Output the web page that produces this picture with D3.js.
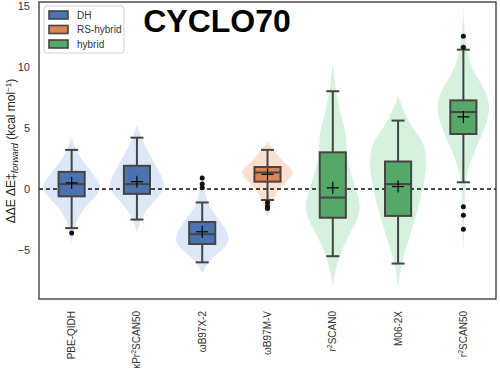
<!DOCTYPE html>
<html><head><meta charset="utf-8">
<script src="https://cdn.jsdelivr.net/npm/d3@7/dist/d3.min.js"></script>
<style>body{margin:0;background:#fff}svg{display:block}text{font-family:"Liberation Sans",Arial,sans-serif}</style>
</head><body><svg id="c" width="500" height="370"></svg>
<script>
// ---- data ----
const categories = ["PBE-QIDH","κPr2SCAN50","ωB97X-2","ωB97M-V","r2SCAN0","M06-2X","r2SCAN50"];
const groups     = ["DH","DH","DH","RS-hybrid","hybrid","hybrid","hybrid"];
const legendGroups = ["DH","RS-hybrid","hybrid"];
// box stats: [whiskerLow, q1, median, q3, whiskerHigh]
const boxStats = [
  [-3.2,-0.6,0.4,1.4,3.2],
  [-2.5,-0.4,0.4,1.9,4.2],
  [-6.0,-4.5,-3.7,-2.7,-1.1],
  [-0.9,0.6,1.35,1.8,3.2],
  [-5.5,-2.35,-0.7,3.0,8.0],
  [-6.1,-2.2,0.4,2.25,5.6],
  [0.55,4.5,6.3,7.25,11.4]
];
const means = [0.5,0.6,-3.5,1.2,0.1,0.2,5.9];
const outliers = [
  [-3.6],
  [],
  [0.9,0.4,0.1],
  [-1.1,-1.4,-1.6],
  [],
  [],
  [12.5,11.6,-1.45,-2.15,-3.3]
];
// violin outlines: [value, relative half-width]
const violins = [
  [[4.2,0],[3.5,0.1],[2.5,0.3],[1.5,0.65],[0.5,0.97],[0,1.0],[-0.7,0.8],[-1.5,0.45],[-2.5,0.18],[-3.5,0.07],[-4.4,0]],
  [[5.2,0],[4.5,0.1],[3.0,0.38],[1.5,0.75],[0.3,1.0],[-0.5,0.8],[-1.5,0.38],[-2.5,0.12],[-3.6,0]],
  [[1.5,0],[0.5,0.05],[-1.0,0.15],[-2.0,0.4],[-3.0,0.75],[-4.2,1.0],[-5.0,0.7],[-5.8,0.25],[-6.9,0]],
  [[3.9,0],[3.0,0.25],[2.0,0.65],[1.3,1.0],[0.5,0.6],[-0.5,0.25],[-1.5,0.1],[-2.3,0]],
  [[10.3,0],[8.5,0.08],[6.1,0.26],[4.3,0.5],[2.8,0.45],[1.0,0.65],[-1.3,1.0],[-2.5,0.85],[-3.8,0.55],[-5.8,0.15],[-7.9,0]],
  [[7.6,0],[6.1,0.24],[4.8,0.55],[3.8,0.92],[1.9,1.0],[0,0.85],[-1.5,0.7],[-4.0,0.4],[-5.9,0.12],[-8.0,0]],
  [[14.8,0],[12.0,0.05],[9.75,0.28],[8.4,0.7],[6.6,1.0],[4.3,0.62],[2.4,0.25],[0.8,0.08],[-1.0,0.04],[-3.5,0.03],[-5.0,0]]
];
const yTicks = [-5,0,5,10,15];
const boxColors = {"DH":"#4c72b0","RS-hybrid":"#dd8452","hybrid":"#55a868"};
const violinColors = {"DH":"#dce8f7","RS-hybrid":"#fbe0cf","hybrid":"#d6f1dd"};

// ---- layout ----
const svg = d3.select("#c");
const L=39, R=496, T=2, B=299;
const x = d3.scaleBand().domain(categories).range([L,R]).padding(0);
const y = d3.scaleLinear().domain([-9.0,15.3]).range([B,T]);
const bw = x.bandwidth();
const boxW = bw*0.4, vHalf = 29, capHalf = 6.5;
const edge = "#444";

// violins
const area = d3.area().curve(d3.curveBasis).y(d=>y(d[0]));
categories.forEach((c,i)=>{
  const cx = x(c)+bw/2;
  svg.append("path").datum(violins[i])
    .attr("d", area.x0(d=>cx-d[1]*vHalf).x1(d=>cx+d[1]*vHalf))
    .attr("fill", violinColors[groups[i]]).attr("stroke","none");
});

// zero line
svg.append("line").attr("x1",L).attr("x2",R).attr("y1",y(0)).attr("y2",y(0))
  .attr("stroke","#111").attr("stroke-width",1.4).attr("stroke-dasharray","4,3");

// boxes
categories.forEach((c,i)=>{
  const cx = x(c)+bw/2, s = boxStats[i];
  const g = svg.append("g");
  g.append("line").attr("x1",cx).attr("x2",cx).attr("y1",y(s[3])).attr("y2",y(s[4])).attr("stroke",edge).attr("stroke-width",2);
  g.append("line").attr("x1",cx).attr("x2",cx).attr("y1",y(s[1])).attr("y2",y(s[0])).attr("stroke",edge).attr("stroke-width",2);
  [s[0],s[4]].forEach(v=>g.append("line").attr("x1",cx-capHalf).attr("x2",cx+capHalf).attr("y1",y(v)).attr("y2",y(v)).attr("stroke",edge).attr("stroke-width",2));
  g.append("rect").attr("x",cx-boxW/2).attr("width",boxW).attr("y",y(s[3])).attr("height",y(s[1])-y(s[3]))
    .attr("fill",boxColors[groups[i]]).attr("stroke",edge).attr("stroke-width",2);
  g.append("line").attr("x1",cx-boxW/2).attr("x2",cx+boxW/2).attr("y1",y(s[2])).attr("y2",y(s[2])).attr("stroke",edge).attr("stroke-width",2);
  const my = y(means[i]);
  g.append("line").attr("x1",cx-6).attr("x2",cx+6).attr("y1",my).attr("y2",my).attr("stroke","#000").attr("stroke-width",1.2);
  g.append("line").attr("x1",cx).attr("x2",cx).attr("y1",my-6).attr("y2",my+6).attr("stroke","#000").attr("stroke-width",1.2);
  outliers[i].forEach(v=>g.append("circle").attr("cx",cx).attr("cy",y(v)).attr("r",2.5).attr("fill","#111"));
});

// frame
svg.append("rect").attr("x",L).attr("y",T).attr("width",R-L).attr("height",B-T)
  .attr("fill","none").attr("stroke","#333").attr("stroke-width",1.3);

// y axis
const yAxis = svg.append("g").attr("transform",`translate(${L},0)`)
  .call(d3.axisLeft(y).tickValues(yTicks).tickSize(0).tickPadding(9).tickFormat(d=>d<0?"\u2212"+Math.abs(d):d));
yAxis.select(".domain").remove();
yAxis.selectAll("text").attr("font-size",11).attr("fill","#333").style("font-family","'Liberation Sans',Arial,sans-serif");

// x axis labels
function addLabel(sel, name){
  const m = name.match(/^(.*?r)2(SCAN.*)$/);
  if(m){
    sel.append("tspan").text(m[1]);
    sel.append("tspan").text("2").attr("dy",-4).attr("font-size",7);
    sel.append("tspan").text(m[2]).attr("dy",4);
  } else sel.text(name);
}
categories.forEach(c=>{
  const t = svg.append("text")
    .attr("transform",`translate(${x(c)+bw/2+3.5},${311}) rotate(-90)`)
    .attr("text-anchor","end").attr("font-size",10).attr("fill","#333");
  addLabel(t,c);
});

// y label
const yl = svg.append("text").attr("transform","translate(15,151) rotate(-90)")
  .attr("text-anchor","middle").attr("font-size",12).attr("fill","#222");
yl.append("tspan").text("\u0394\u0394E \u0394E\u2021");
yl.append("tspan").text("forward").attr("font-style","italic").attr("font-size",9).attr("dy",3);
yl.append("tspan").text(" (kcal mol").attr("dy",-3);
yl.append("tspan").text("\u22121").attr("font-size",8).attr("dy",-4);
yl.append("tspan").text(")").attr("dy",4);

// title
svg.append("text").attr("x",217).attr("y",32).attr("text-anchor","middle")
  .attr("font-size",32).attr("font-weight","bold").attr("fill","#000").text("CYCLO70");

// legend
const lg = svg.append("g").attr("transform","translate(44,6)");
lg.append("rect").attr("width",80).attr("height",47).attr("rx",3)
  .attr("fill","#fff").attr("fill-opacity",0.85).attr("stroke","#d0d0d0").attr("stroke-width",1);
legendGroups.forEach((gname,i)=>{
  const yy = 9 + i*14.5;
  lg.append("rect").attr("x",5).attr("y",yy-4).attr("width",19).attr("height",8)
    .attr("fill",boxColors[gname]).attr("stroke",edge).attr("stroke-width",1.6);
  lg.append("text").attr("x",33).attr("y",yy+3.5).attr("font-size",10).attr("fill","#333").text(gname);
});
</script></body></html>
